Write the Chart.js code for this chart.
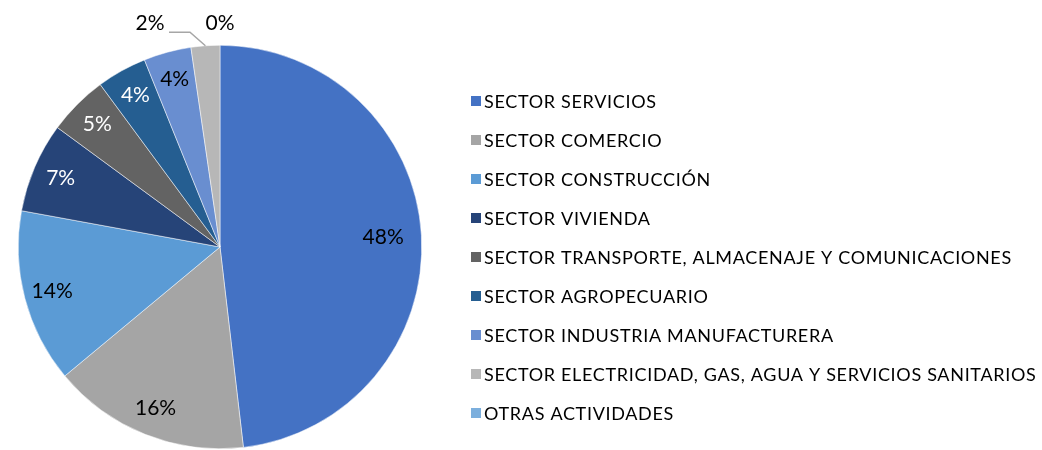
<!DOCTYPE html>
<html>
<head>
<meta charset="utf-8">
<script src="https://cdn.jsdelivr.net/npm/chart.js@4.4.0/dist/chart.umd.min.js"></script>
<style>
    html, body { margin: 0; padding: 0; background: #fff; overflow: hidden; }
    #wrap { position: relative; width: 1042px; height: 450px; }
</style>
</head>
<body>
<div id="wrap"><canvas id="pieChart" width="1042" height="450"></canvas></div>
<script>
// Data
const sectors = [
    'SECTOR SERVICIOS',
    'SECTOR COMERCIO',
    'SECTOR CONSTRUCCIÓN',
    'SECTOR VIVIENDA',
    'SECTOR TRANSPORTE, ALMACENAJE Y COMUNICACIONES',
    'SECTOR AGROPECUARIO',
    'SECTOR INDUSTRIA MANUFACTURERA',
    'SECTOR ELECTRICIDAD, GAS, AGUA Y SERVICIOS SANITARIOS',
    'OTRAS ACTIVIDADES'
];
const shares = [48.1, 15.8, 13.9, 7.2, 4.8, 4.0, 3.8, 2.3, 0];

const colors = [
    '#4472C4', '#A5A5A5', '#5B9BD5', '#264478', '#636363',
    '#255E91', '#698ED0', '#B7B7B7', '#7CAFDD'
];
// label text colour per slice (white on the dark ones)
const labelColors = ['#000', '#000', '#000', '#fff', '#fff', '#fff', '#000', '#000', '#000'];

const FONT = 'Lato, "Open Sans", sans-serif';

// percentage labels drawn on / next to the slices
const sliceLabels = {
    id: 'sliceLabels',
    afterDatasetsDraw(chart) {
        const ctx = chart.ctx;
        const meta = chart.getDatasetMeta(0);
        const total = shares.reduce((a, b) => a + b, 0);
        ctx.save();
        ctx.font = '21px ' + FONT;
        ctx.textAlign = 'center';
        ctx.textBaseline = 'middle';
        meta.data.forEach((arc, i) => {
            const pct = Math.round(shares[i] / total * 100) + '%';
            const mid = (arc.startAngle + arc.endAngle) / 2;
            const r = arc.outerRadius;
            if (i >= 7) {
                // small slices: outside, above the pie
                ctx.fillStyle = '#000';
                if (i === 7) {
                    const ex = arc.x + Math.cos(mid) * r;
                    const ey = arc.y + Math.sin(mid) * r;
                    ctx.strokeStyle = '#A6A6A6';
                    ctx.lineWidth = 1.5;
                    ctx.beginPath();
                    ctx.moveTo(ex, ey);
                    ctx.lineTo(arc.x - 30, arc.y - r - 13);
                    ctx.lineTo(arc.x - 51, arc.y - r - 13);
                    ctx.stroke();
                    ctx.fillText(pct, arc.x - 70, arc.y - r - 22);
                } else {
                    ctx.fillText(pct, arc.x, arc.y - r - 22);
                }
                return;
            }
            const k = i === 0 ? 0.81 : 0.86;
            ctx.fillStyle = labelColors[i];
            ctx.fillText(pct, arc.x + Math.cos(mid) * r * k, arc.y + Math.sin(mid) * r * k);
        });
        ctx.restore();
    }
};

// legend column on the right
const sideLegend = {
    id: 'sideLegend',
    afterDraw(chart) {
        const ctx = chart.ctx;
        const x0 = 471, y0 = 101, step = 39, textX = 484, maxW = 552;
        ctx.save();
        ctx.font = '18px ' + FONT;
        let longest = 0;
        sectors.forEach(s => { longest = Math.max(longest, ctx.measureText(s).width); });
        const spacing = (maxW - longest) / 52;
        ctx.letterSpacing = spacing.toFixed(2) + 'px';
        ctx.textBaseline = 'middle';
        ctx.textAlign = 'left';
        sectors.forEach((s, i) => {
            const y = y0 + i * step;
            ctx.fillStyle = colors[i];
            ctx.fillRect(x0, y - 5, 10, 10);
            ctx.fillStyle = '#000';
            ctx.fillText(s, textX, y + 1);
        });
        ctx.restore();
    }
};

new Chart(document.getElementById('pieChart'), {
    type: 'pie',
    data: {
        labels: sectors,
        datasets: [{
            data: shares,
            backgroundColor: colors,
            borderColor: '#fff',
            borderWidth: 0.5
        }]
    },
    options: {
        responsive: false,
        animation: false,
        layout: { padding: { left: 18, right: 620, top: 45, bottom: 1 } },
        plugins: {
            legend: { display: false },
            tooltip: { enabled: false }
        }
    },
    plugins: [sliceLabels, sideLegend]
});
</script>
</body>
</html>
